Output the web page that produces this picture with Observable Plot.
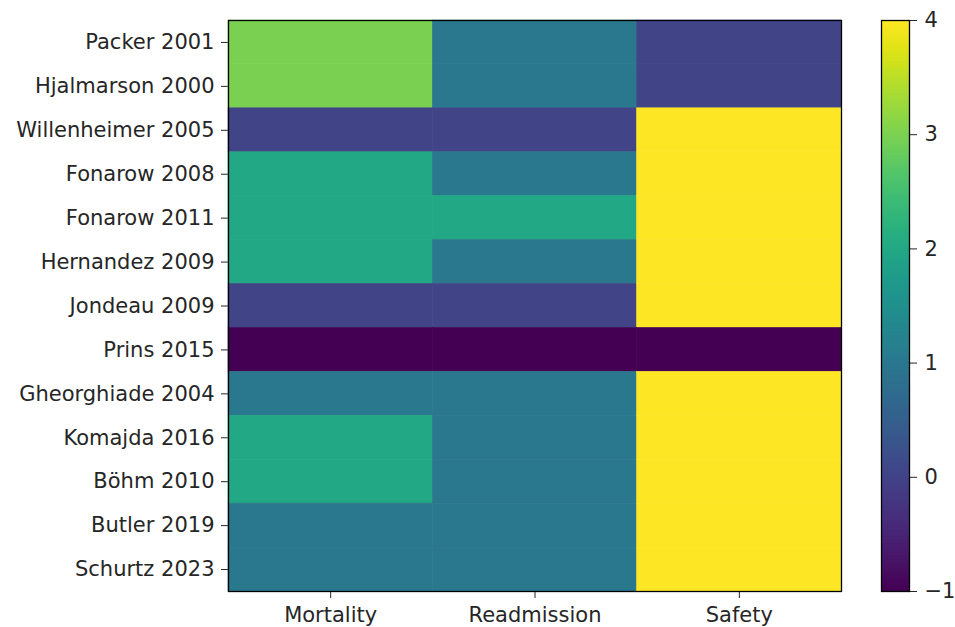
<!DOCTYPE html>
<html>
<head>
<meta charset="utf-8">
<script src="https://cdn.jsdelivr.net/npm/d3@7"></script>
<script src="https://cdn.jsdelivr.net/npm/@observablehq/plot@0.6"></script>
<style>
  html, body { margin: 0; padding: 0; background: #fff; }
  #wrap { position: relative; width: 955px; height: 627px; overflow: hidden; }
  #wrap svg { position: absolute; top: 0; overflow: visible; }
</style>
</head>
<body>
<div id="wrap"></div>
<script>
const studies = [
  "Packer 2001", "Hjalmarson 2000", "Willenheimer 2005", "Fonarow 2008",
  "Fonarow 2011", "Hernandez 2009", "Jondeau 2009", "Prins 2015",
  "Gheorghiade 2004", "Komajda 2016", "Böhm 2010", "Butler 2019", "Schurtz 2023"
];
const metrics = ["Mortality", "Readmission", "Safety"];
const mortality   = [3, 3, 0, 2, 2, 2, 0, -1, 1, 2, 2, 1, 1];
const readmission = [1, 1, 0, 1, 2, 1, 0, -1, 1, 1, 1, 1, 1];
const safety      = [0, 0, 4, 4, 4, 4, 4, -1, 4, 4, 4, 4, 4];
const colorTicks  = [-1, 0, 1, 2, 3, 4];
const colorDomain = [-1, 4];

const series = {Mortality: mortality, Readmission: readmission, Safety: safety};
const data = [];
studies.forEach((s, i) => metrics.forEach(m => data.push({study: s, metric: m, value: series[m][i]})));

const font = {fontFamily: "'DejaVu Sans', sans-serif", fontSize: "21px", color: "#262626", background: "transparent"};

const main = Plot.plot({
  width: 860, height: 627,
  marginLeft: 228, marginRight: 19, marginTop: 20, marginBottom: 36,
  style: font,
  x: {domain: metrics, padding: 0, round: false, label: null, tickSize: 7, tickPadding: 9},
  y: {domain: studies, padding: 0, round: false, label: null, tickSize: 7, tickPadding: 7},
  color: {type: "linear", scheme: "viridis", domain: colorDomain},
  marks: [
    Plot.cell(data, {x: "metric", y: "study", fill: "value", inset: 0, stroke: "value", strokeWidth: 0.6}),
    Plot.frame({stroke: "#000", strokeWidth: 1.3})
  ]
});
main.style.left = "0px";
document.getElementById("wrap").appendChild(main);

const step = 0.02;
const grad = d3.range(colorDomain[0], colorDomain[1], step);
const bar = Plot.plot({
  width: 72, height: 627,
  marginLeft: 0, marginRight: 44, marginTop: 20, marginBottom: 36,
  style: font,
  x: {domain: [0, 1], axis: null},
  y: {domain: colorDomain, ticks: colorTicks, tickFormat: d => d < 0 ? "\u2212" + Math.abs(d) : String(d), label: null, axis: "right", tickSize: 7, tickPadding: 8},
  color: {type: "linear", scheme: "viridis", domain: colorDomain},
  marks: [
    Plot.rect(grad, {x1: 0, x2: 1, y1: d => d, y2: d => Math.min(d + step * 1.5, colorDomain[1]), fill: d => d + step / 2}),
    Plot.frame({stroke: "#000", strokeWidth: 1.3})
  ]
});
bar.style.left = "881px";
document.getElementById("wrap").appendChild(bar);
</script>
</body>
</html>
